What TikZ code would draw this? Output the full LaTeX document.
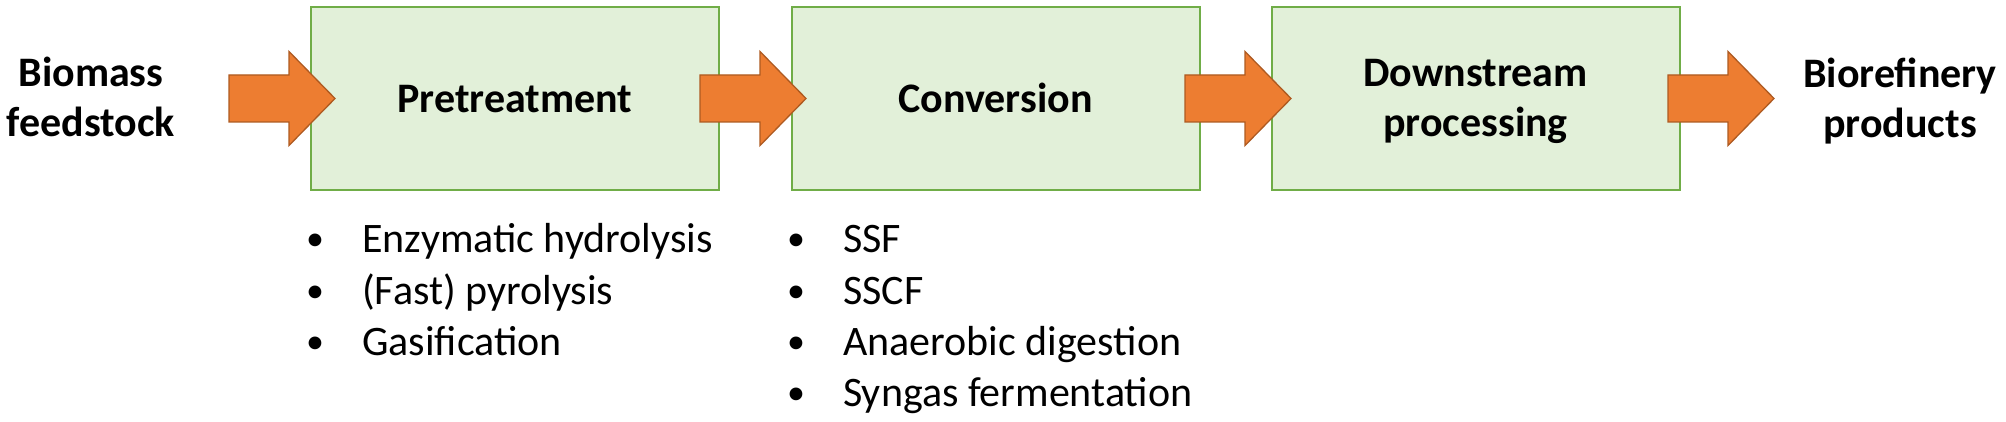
\documentclass[tikz,border=0pt]{standalone}
\usepackage{fontspec}
\setmainfont{Carlito}
\definecolor{boxfill}{HTML}{E2F0D9}
\definecolor{boxline}{HTML}{70AD47}
\definecolor{arrfill}{HTML}{ED7D31}
\definecolor{arrline}{HTML}{AE5A21}
\newcommand\blockarrowpath[1]{%
  \draw[blockarrow] (#1) ++(0,-23.5) -- ++(60,0) -- ++(0,-23.5) -- ++(46,47)
    -- ++(-46,47) -- ++(0,-23.5) -- ++(-60,0) -- cycle;}
\begin{document}
\begin{tikzpicture}[x=1pt,y=-1pt,
  stage/.style={draw=boxline, fill=boxfill, line width=2pt,
    minimum width=408pt, minimum height=183pt, inner sep=0pt},
  head/.style={inner sep=0pt, align=center,
    font=\fontsize{42}{50}\selectfont\bfseries},
  item/.style={inner sep=0pt, anchor=base west, font=\fontsize{42}{50}\selectfont},
  dot/.style={inner sep=0pt, anchor=base, font=\fontsize{36}{44}\selectfont},
  blockarrow/.style={fill=arrfill, draw=arrline, line width=1.3pt, line join=miter}]
\useasboundingbox (0,0) rectangle (2006,422);
% stages
\node[stage] (pre) at (515,98.5) {};
\node[stage] (con) at (995.5,98.5) {};
\node[stage] (down) at (1475.5,98.5) {};
\node[head, anchor=base] (pret) at (pre.center |- 0,113) {Pretreatment};
\node[head, anchor=base] (conv) at (con.center |- 0,113) {Conversion};
\node[head] (downt) at (1475.5,101.5) {Downstream\\processing};
\node[head] (bio) at (91,96.5) {Biomass\\feedstock};
\node[head] (prod) at (1900,101.5) {Biorefinery\\products};
% block arrows
\coordinate (a1) at (229,98.5);
\coordinate (a2) at (700,98.5);
\coordinate (a3) at (1185,98.5);
\coordinate (a4) at (1668,98.5);
\blockarrowpath{a1}
\blockarrowpath{a2}
\blockarrowpath{a3}
\blockarrowpath{a4}
% lists
\node[dot] (b11) at (315,251) {•};
\node[item] (l11) at (362,253) {Enzymatic hydrolysis};
\node[dot] (b12) at (315,302) {•};
\node[item] (l12) at (362,304) {(Fast) pyrolysis};
\node[dot] (b13) at (315,353) {•};
\node[item] (l13) at (362,355) {Gasification};
\node[dot] (b21) at (796,251) {•};
\node[item] (l21) at (843,253) {SSF};
\node[dot] (b22) at (796,302) {•};
\node[item] (l22) at (843,304) {SSCF};
\node[dot] (b23) at (796,353) {•};
\node[item] (l23) at (843,355) {Anaerobic digestion};
\node[dot] (b24) at (796,404) {•};
\node[item] (l24) at (843,406) {Syngas fermentation};
\end{tikzpicture}
\end{document}
